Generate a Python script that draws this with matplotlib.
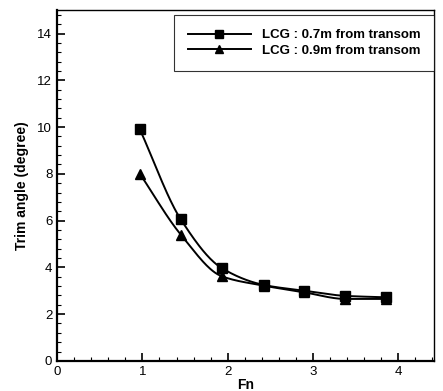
import matplotlib
matplotlib.use("Agg")
import matplotlib.pyplot as plt
import numpy as np
from matplotlib.ticker import MultipleLocator

fn = [0.97, 1.45, 1.93, 2.42, 2.90, 3.38, 3.85]
trim_07 = [9.9, 6.05, 3.97, 3.25, 3.0, 2.78, 2.72]
trim_09 = [8.0, 5.4, 3.62, 3.22, 2.93, 2.65, 2.65]
labels = ["LCG : 0.7m from transom", "LCG : 0.9m from transom"]


def smooth(x, y, n=200):
    # monotone cubic (Fritsch-Carlson), only used to draw the curve through the points
    x = np.asarray(x, float)
    y = np.asarray(y, float)
    h = np.diff(x)
    d = np.diff(y) / h
    m = np.zeros_like(y)
    m[0], m[-1] = d[0], d[-1]
    for i in range(1, len(x) - 1):
        if d[i - 1] * d[i] > 0:
            w1 = 2 * h[i] + h[i - 1]
            w2 = h[i] + 2 * h[i - 1]
            m[i] = (w1 + w2) / (w1 / d[i - 1] + w2 / d[i])
    xs = np.linspace(x[0], x[-1], n)
    idx = np.clip(np.searchsorted(x, xs) - 1, 0, len(x) - 2)
    hh = h[idx]
    t = (xs - x[idx]) / hh
    h00 = 2 * t ** 3 - 3 * t ** 2 + 1
    h10 = t ** 3 - 2 * t ** 2 + t
    h01 = -2 * t ** 3 + 3 * t ** 2
    h11 = t ** 3 - t ** 2
    ys = h00 * y[idx] + h10 * hh * m[idx] + h01 * y[idx + 1] + h11 * hh * m[idx + 1]
    return xs, ys


plt.rcParams["font.family"] = ["Liberation Sans", "DejaVu Sans"]

fig = plt.figure(figsize=(4.43, 3.91), dpi=100)
ax = fig.add_axes([0.129, 0.077, 0.851, 0.897])

for ys, mk, lab in [(trim_07, "s", labels[0]), (trim_09, "^", labels[1])]:
    sx, sy = smooth(fn, ys)
    ax.plot(sx, sy, color="black", linewidth=1.4)
    ax.plot(fn, ys, linestyle="none", marker=mk, markersize=7, color="black")
    ax.plot([], [], color="black", linewidth=1.4, marker=mk, markersize=6, label=lab)

ax.set_xlim(0, 4.42)
ax.set_ylim(0, 15)
ax.xaxis.set_major_locator(MultipleLocator(1))
ax.xaxis.set_minor_locator(MultipleLocator(0.2))
ax.yaxis.set_major_locator(MultipleLocator(2))
ax.yaxis.set_minor_locator(MultipleLocator(0.4))
ax.tick_params(which="major", direction="in", length=6, width=1.2, labelsize=9.5)
ax.tick_params(which="minor", direction="in", length=3, width=0.8)
for sp in ax.spines.values():
    sp.set_linewidth(1.0)
ax.spines["left"].set_linewidth(1.6)
ax.spines["bottom"].set_linewidth(1.6)

ax.set_xlabel("Fn", fontsize=10, fontweight="bold", labelpad=0)
ax.set_ylabel("Trim angle (degree)", fontsize=10, fontweight="bold", labelpad=6)

leg = ax.legend(loc="upper right", bbox_to_anchor=(1.0, 0.986),
                prop={"weight": "bold", "size": 9.5}, handlelength=4.8,
                frameon=True, fancybox=False, edgecolor="black",
                borderpad=1.05, labelspacing=0.25, handletextpad=0.8,
                borderaxespad=0)
leg.get_frame().set_linewidth(0.8)

fig.savefig("out.png", dpi=100)
plt.close(fig)
